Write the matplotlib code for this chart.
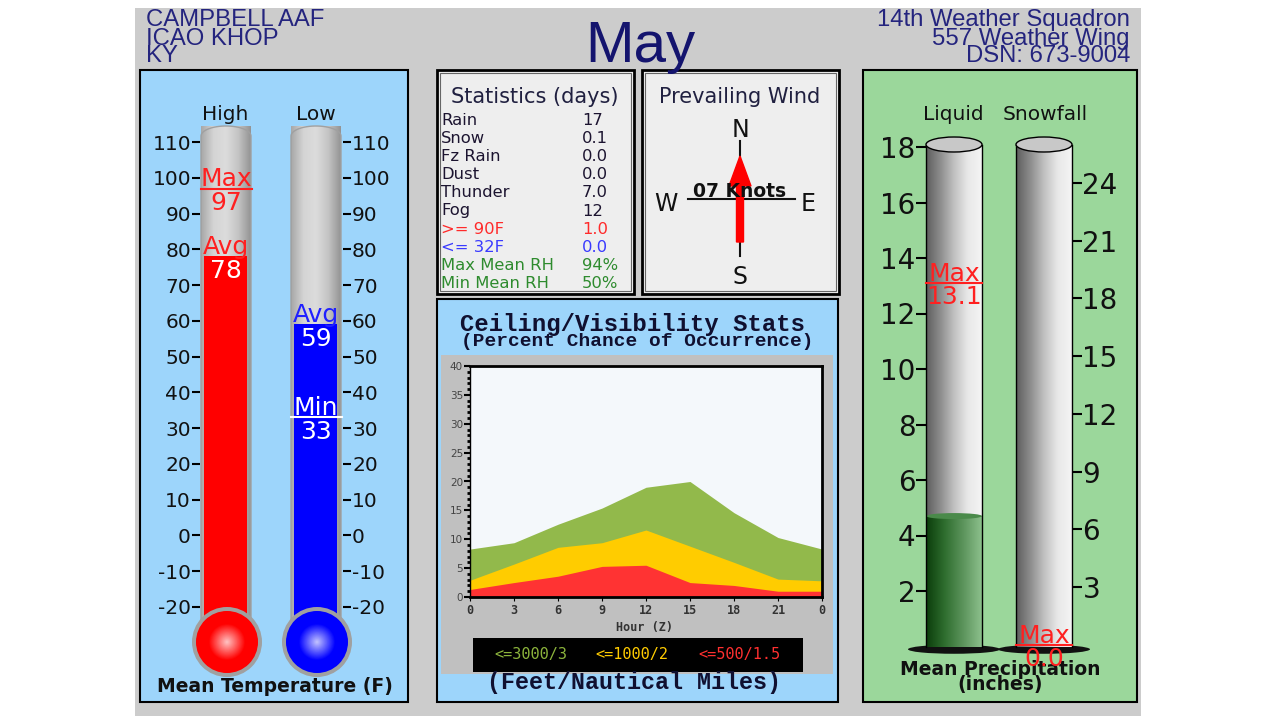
import numpy as np
import matplotlib
matplotlib.use("Agg")
from matplotlib import pyplot as plt
from matplotlib.patches import Rectangle, Ellipse, Polygon, FancyArrow
from matplotlib.colors import to_rgb

plt.rcParams["font.family"] = "DejaVu Sans"
plt.rcParams["axes.unicode_minus"] = False

# header
station_lines = ["CAMPBELL AAF", "ICAO KHOP", "KY"]
unit_lines = ["14th Weather Squadron", "557 Weather Wing", "DSN: 673-9004"]
month_name = "May"

# mean temperature (F)
temp_ticks = list(range(-20, 111, 10))
high_avg = 78
high_max = 97
low_avg = 59
low_min = 33

# statistics (days)
stat_names = ["Rain", "Snow", "Fz Rain", "Dust", "Thunder", "Fog",
              ">= 90F", "<= 32F", "Max Mean RH", "Min Mean RH"]
stat_values = ["17", "0.1", "0.0", "0.0", "7.0", "12", "1.0", "0.0", "94%", "50%"]
stat_colors = ["#1c1430"] * 6 + ["#ff2a2a", "#3a3aff", "#2e8b2e", "#2e8b2e"]

# prevailing wind
wind_speed = 7
wind_bearing = 0  # arrow points this way, degrees

# ceiling / visibility (percent chance of occurrence)
hours = [0, 3, 6, 9, 12, 15, 18, 21, 24]
hour_labels = ["0", "3", "6", "9", "12", "15", "18", "21", "0"]
pct_3000 = [8.3, 9.4, 12.6, 15.4, 19.0, 20.0, 14.6, 10.3, 8.3]
pct_1000 = [2.9, 5.7, 8.6, 9.4, 11.6, 8.8, 6.0, 3.1, 2.8]
pct_500 = [1.3, 2.5, 3.6, 5.3, 5.5, 2.5, 2.0, 1.0, 1.0]
cv_labels = ["<=3000/3", "<=1000/2", "<=500/1.5"]
cv_colors = ["#92b94b", "#ffcc00", "#ff3333"]
cv_text_colors = ["#8cb43c", "#ffcc00", "#ff3030"]

# mean precipitation (inches)
liquid_ticks = list(range(2, 19, 2))
snow_ticks = list(range(3, 25, 3))
liquid_mean = 4.7
liquid_max = 13.1
snow_mean = 0.0
snow_max = 0.0

W, H = 1280, 720
fig = plt.figure(figsize=(W / 100, H / 100), dpi=100)
base = fig.add_axes([0, 0, 1, 1])
base.set_xlim(0, W)
base.set_ylim(H, 0)
base.axis("off")


def px_axes(x0, y0, x1, y1, z=2):
    ax = fig.add_axes([x0 / W, 1 - y1 / H, (x1 - x0) / W, (y1 - y0) / H])
    ax.set_zorder(z)
    ax.patch.set_alpha(0)
    return ax


def box(x0, y0, x1, y1, fc, ec="black", lw=1.5, z=1):
    base.add_patch(Rectangle((x0, y0), x1 - x0, y1 - y0, facecolor=fc,
                             edgecolor=ec, lw=lw, zorder=z))


def hgrad(colors, n=80):
    pos = np.linspace(0, 1, len(colors))
    rgb = np.array([to_rgb(c) for c in colors])
    t = np.linspace(0, 1, n)
    arr = np.stack([np.interp(t, pos, rgb[:, k]) for k in range(3)], axis=-1)
    return arr[None, :, :]


# background + panels
box(135, 8, 1141, 716, "#cccccc", ec="none", lw=0, z=0)
box(140, 70, 408, 702, "#9dd5fb")
box(437, 70, 634, 294, "#eeeeee", lw=2)
box(440, 73, 631, 291, "none", ec="#666666", lw=0.8, z=2)
box(642, 70, 839, 294, "#eeeeee", lw=2)
box(645, 73, 836, 291, "none", ec="#666666", lw=0.8, z=2)
box(437, 299, 838, 702, "#9dd5fb")
box(441, 355, 833, 674, "#c0c0c0", ec="none", lw=0, z=2)
box(473, 638, 803, 672, "black", ec="none", lw=0, z=3)
box(863, 70, 1137, 702, "#9bd79b")

hdr = dict(family="Liberation Sans", fontsize=17.2, color="#24247e", va="baseline")
for txt, y in zip(station_lines, [26, 45, 62]):
    base.text(146, y, txt, ha="left", **hdr)
for txt, y in zip(unit_lines, [26, 45, 62]):
    base.text(1130, y, txt, ha="right", **hdr)
base.text(640, 62, month_name, family="Liberation Sans", fontsize=42,
          color="#14146e", ha="center", va="baseline")

# statistics box
base.text(535, 103, "Statistics (days)", fontsize=15, color="#202040",
          ha="center", va="baseline", zorder=4)
for i, (nm, val, col) in enumerate(zip(stat_names, stat_values, stat_colors)):
    yb = 125 + i * 18.1
    base.text(441, yb, nm, fontsize=11.8, color=col, va="baseline", zorder=4)
    base.text(582, yb, val, fontsize=11.8, color=col, va="baseline", zorder=4)

# wind box
base.text(740, 103, "Prevailing Wind", fontsize=15, color="#202040",
          ha="center", va="baseline", zorder=4)
for lab, x, y in [("N", 740, 137), ("S", 740, 284), ("W", 666, 211), ("E", 808, 211)]:
    base.text(x, y, lab, fontsize=17, color="#111111", ha="center",
              va="baseline", zorder=4)
base.plot([740, 740], [141, 256], color="#111111", lw=1.5, zorder=4)
base.plot([688, 795], [199, 199], color="#111111", lw=1.5, zorder=4)

ax_w = px_axes(690, 149, 790, 249, z=3)
ax_w.set_xlim(-50, 50)
ax_w.set_ylim(-50, 50)
ax_w.axis("off")
b = np.radians(wind_bearing)
L = 86
ax_w.add_patch(FancyArrow(-np.sin(b) * L / 2, -np.cos(b) * L / 2,
                          np.sin(b) * L, np.cos(b) * L, width=7, head_width=22,
                          head_length=30, length_includes_head=True,
                          color="#ff0000", zorder=2))
ax_w.text(0, 2, f"{wind_speed:02d} Knots", fontsize=13.5, fontweight="bold",
          color="#111111", ha="center", va="baseline", zorder=3)

# ceiling / visibility
mono = dict(family="Liberation Mono", fontweight="bold", color="#101030")
base.text(633, 331, "Ceiling/Visibility Stats", fontsize=17.2, ha="center",
          va="baseline", zorder=4, **mono)
base.text(637, 346, "(Percent Chance of Occurrence)", fontsize=14, ha="center",
          va="baseline", zorder=4, **mono)
base.text(634, 689, "(Feet/Nautical Miles)", fontsize=16.8, ha="center",
          va="baseline", zorder=4, **mono)
base.text(644, 627, "Hour (Z)", fontsize=8.5, ha="center", va="center",
          zorder=4, family="DejaVu Sans Mono", fontweight="bold", color="#333333")
for lab, col, x in zip(cv_labels, cv_text_colors, [531, 632, 739]):
    base.text(x, 655, lab, fontsize=11, ha="center", va="center", color=col,
              family="DejaVu Sans Mono", zorder=4)

ax_c = px_axes(470, 366, 822, 597, z=3)
ax_c.patch.set_alpha(1)
ax_c.set_facecolor("#f4f8fb")
for vals, col in zip([pct_3000, pct_1000, pct_500], cv_colors):
    ax_c.fill_between(hours, 0, vals, color=col, lw=0)
ax_c.set_xlim(0, 24)
ax_c.set_ylim(0, 40)
ax_c.set_xticks(hours)
ax_c.set_xticklabels(hour_labels, family="DejaVu Sans Mono", fontweight="bold")
ax_c.set_yticks(range(0, 41, 5))
ax_c.set_yticks(range(0, 41, 1), minor=True)
ax_c.tick_params(axis="x", length=3, labelsize=8.5, labelcolor="#333333", pad=2)
ax_c.tick_params(axis="y", which="major", length=4, width=1.5, labelsize=7.5,
                 labelcolor="#444444", pad=1)
ax_c.tick_params(axis="y", which="minor", length=2, width=2)
for s in ["top", "right", "bottom"]:
    ax_c.spines[s].set_linewidth(2)
ax_c.spines["left"].set_linewidth(1)

# thermometers
ax_t = px_axes(200, 142, 343, 607, z=3)
ppu = (607 - 142) / 130.0


def v_of(py):
    return 110 - (py - 142) / ppu


bulb_v = v_of(642)
top_v = v_of(126)
cap = 10 / ppu
for cx, fill_val, fill_col, hi_col in [(226, high_avg, "#ff0000", "#ffc8c8"),
                                        (316, low_avg, "#0000ff", "#c8c8ff")]:
    x0, x1 = cx - 25, cx + 25
    th = np.linspace(np.pi, 0, 30)
    pts = [(x0, bulb_v)] + [(cx + 25 * np.cos(t), top_v - cap + cap * np.sin(t)) for t in th] + [(x1, bulb_v)]
    tube = Polygon(pts, closed=True, facecolor="none", edgecolor="#a0a0a0",
                   lw=1, zorder=2, clip_on=False)
    ax_t.add_patch(tube)
    im = ax_t.imshow(hgrad(["#a8a8a8", "#d4d4d4", "#dcdcdc", "#c4c4c4", "#949494"]),
                     extent=[x0, x1, bulb_v, top_v], aspect="auto", zorder=1,
                     clip_on=False)
    im.set_clip_path(tube)
    ax_t.bar(cx - 0.5, fill_val - bulb_v, bottom=bulb_v, width=43,
             color=fill_col, zorder=3, clip_on=False)
    ax_t.add_patch(Ellipse((cx + 1, bulb_v), 70, 70 / ppu, facecolor="#a0a0a0",
                           edgecolor="none", zorder=4, clip_on=False))
    base_rgb = np.array(to_rgb(fill_col))
    hi_rgb = np.array(to_rgb(hi_col))
    R = 31
    for k in range(40):
        r = R * (1 - k / 40)
        t = max(0.0, 1 - r / (0.6 * R))
        col = base_rgb * (1 - t) + hi_rgb * t
        ax_t.add_patch(Ellipse((cx + 1, bulb_v), 2 * r, 2 * r / ppu,
                               facecolor=col, edgecolor="none", zorder=5,
                               clip_on=False))

ax_t.set_xlim(200, 343)
ax_t.set_ylim(-20, 110)
ax_t.set_yticks(temp_ticks)
ax_t.tick_params(axis="y", left=True, right=True, labelleft=True, labelright=True,
                 length=6, width=1.5, pad=0.5, labelsize=14.5, labelcolor="#111111")
ax_t.set_xticks([])
for s in ax_t.spines.values():
    s.set_visible(False)


def marker_label(ax, x, v, top, bottom, top_col, bot_col, line_col, x0, x1, fs=18):
    ax.plot([x0, x1], [v, v], color=line_col, lw=1.5, zorder=7, clip_on=False)
    ax.annotate(top, (x, v), xytext=(0, 1.5), textcoords="offset points",
                ha="center", va="baseline", color=top_col, fontsize=fs, zorder=8,
                annotation_clip=False)
    ax.annotate(bottom, (x, v), xytext=(0, -1.5), textcoords="offset points",
                ha="center", va="top", color=bot_col, fontsize=fs, zorder=8,
                annotation_clip=False)


marker_label(ax_t, 226, high_max, "Max", str(high_max), "#ff2020", "#ff2020",
             "#ff2020", 201, 252)
ax_t.annotate("Avg", (226, high_avg), xytext=(0, 2), textcoords="offset points",
              ha="center", va="baseline", color="#ff2020", fontsize=18, zorder=8)
ax_t.annotate(str(high_avg), (226, high_avg), xytext=(0, -2), textcoords="offset points",
              ha="center", va="top", color="white", fontsize=18, zorder=8)
ax_t.annotate("Avg", (316, low_avg), xytext=(0, 2), textcoords="offset points",
              ha="center", va="baseline", color="#2020ff", fontsize=18, zorder=8)
ax_t.annotate(str(low_avg), (316, low_avg), xytext=(0, -2), textcoords="offset points",
              ha="center", va="top", color="white", fontsize=18, zorder=8)
marker_label(ax_t, 316, low_min, "Min", str(low_min), "white", "white",
             "white", 291, 342)

base.text(225, 120, "High", fontsize=14.5, color="#111111", ha="center", va="baseline")
base.text(316, 120, "Low", fontsize=14.5, color="#111111", ha="center", va="baseline")
base.text(275, 692, "Mean Temperature (F)", fontsize=13.5, fontweight="bold",
          color="#111111", ha="center", va="baseline")

# precipitation cylinders
ax_p = px_axes(926, 147, 1072, 646.5, z=3)
lppu = 499.5 / 18.0
top_l = 18 + 2.5 / lppu
for cx in [954, 1044]:
    x0, x1 = cx - 28, cx + 28
    ax_p.add_patch(Ellipse((cx, -0.1), 92, 9 / lppu, facecolor="#111111",
                           edgecolor="none", zorder=1, clip_on=False))
    ax_p.imshow(hgrad(["#5e5e5e", "#8c8c8c", "#c0c0c0", "#e8e8e8", "#f4f4f4"]),
                extent=[x0, x1, 0, top_l], aspect="auto", zorder=2, clip_on=False)
    ax_p.plot([x0, x0], [0, top_l], color="black", lw=1, zorder=4, clip_on=False)
    ax_p.plot([x1, x1], [0, top_l], color="black", lw=1, zorder=4, clip_on=False)
    ax_p.add_patch(Ellipse((cx, top_l), 56, 15 / lppu, facecolor="#c8c8c8",
                           edgecolor="black", lw=1, zorder=5, clip_on=False))

bars = ax_p.bar(954, liquid_mean, width=56, color="#2e6b2e", zorder=3)
gim = ax_p.imshow(hgrad(["#0b3d0b", "#2f6e2f", "#5c945c", "#8cc08c"]),
                  extent=[926, 982, 0, liquid_mean], aspect="auto", zorder=3)
gim.set_clip_path(bars[0])
ax_p.add_patch(Ellipse((954, liquid_mean), 56, 6 / lppu, facecolor="#4a8a4a",
                       edgecolor="none", zorder=3))

ax_p.set_xlim(926, 1072)
ax_p.set_ylim(0, 18)
ax_p.set_yticks(liquid_ticks)
ax_p.tick_params(axis="y", length=7, width=1.5, pad=0.5, labelsize=20,
                 labelcolor="#111111")
ax_p.set_xticks([])
for s in ax_p.spines.values():
    s.set_visible(False)

ax_s = ax_p.twinx()
ax_s.set_zorder(4)
sppu = (590 - 183) / 21.0
ax_s.set_ylim(-1.5 / sppu, 24 + (183 - 147) / sppu)
ax_s.bar(1044, snow_mean, width=56, color="#2e6b2e", zorder=3)
ax_s.set_yticks(snow_ticks)
ax_s.tick_params(axis="y", length=7, width=1.5, pad=0.5, labelsize=20,
                 labelcolor="#111111")
for s in ax_s.spines.values():
    s.set_visible(False)

marker_label(ax_p, 954, liquid_max, "Max", f"{liquid_max:.1f}", "#ff2020",
             "#ff2020", "#ff2020", 926, 982)
marker_label(ax_s, 1044, snow_max, "Max", f"{snow_max:.1f}", "#ff2020",
             "#ff2020", "#ff2020", 1016, 1072)

base.text(953, 120, "Liquid", fontsize=14.5, color="#111111", ha="center", va="baseline")
base.text(1045, 120, "Snowfall", fontsize=14.5, color="#111111", ha="center", va="baseline")
base.text(1000, 675, "Mean Precipitation", fontsize=13.5, fontweight="bold",
          color="#111111", ha="center", va="baseline", zorder=1)
base.text(1000, 690, "(inches)", fontsize=13.5, fontweight="bold",
          color="#111111", ha="center", va="baseline", zorder=1)

fig.savefig("out.png", dpi=100)
